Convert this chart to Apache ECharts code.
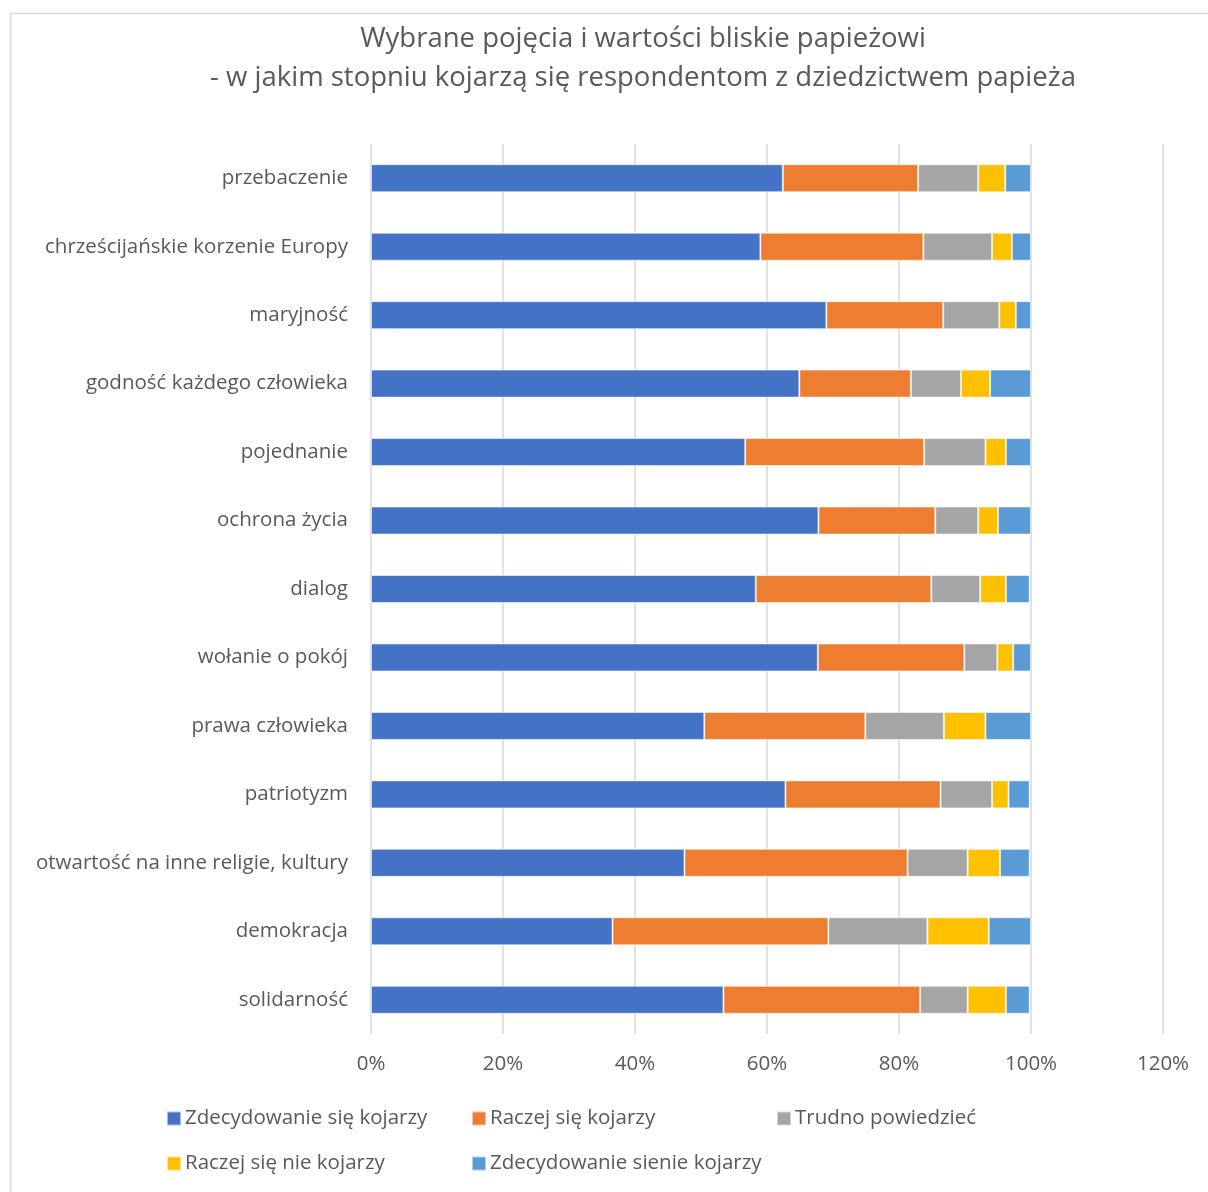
<!DOCTYPE html>
<html>
<head>
<meta charset="utf-8">
<script src="https://cdn.jsdelivr.net/npm/echarts@6/dist/echarts.min.js"></script>
<style>
  html, body { margin: 0; padding: 0; background: #fff; overflow: hidden; }
  #chart { width: 1208px; height: 1192px; }
</style>
</head>
<body>
<div id="chart"></div>
<script>
// Categories, top to bottom
const categories = [
  'przebaczenie',
  'chrześcijańskie korzenie Europy',
  'maryjność',
  'godność każdego człowieka',
  'pojednanie',
  'ochrona życia',
  'dialog',
  'wołanie o pokój',
  'prawa człowieka',
  'patriotyzm',
  'otwartość na inne religie, kultury',
  'demokracja',
  'solidarność'
];

const seriesNames = [
  'Zdecydowanie się kojarzy',
  'Raczej się kojarzy',
  'Trudno powiedzieć',
  'Raczej się nie kojarzy',
  'Zdecydowanie sienie kojarzy'
];

// Shares (%) per category, same order as categories
const zdecydowanieTak = [62.4, 59.0, 69.0, 64.9, 56.7, 67.8, 58.3, 67.7, 50.5, 62.8, 47.5, 36.6, 53.4];
const raczejTak       = [20.5, 24.7, 17.7, 16.9, 27.1, 17.7, 26.6, 22.2, 24.4, 23.5, 33.8, 32.7, 29.8];
const trudno          = [ 9.1, 10.4,  8.5,  7.6,  9.3,  6.5,  7.4,  5.0, 11.9,  7.8,  9.1, 15.0,  7.2];
const raczejNie       = [ 4.1,  3.0,  2.5,  4.4,  3.1,  3.0,  3.9,  2.4,  6.3,  2.5,  4.9,  9.3,  5.8];
const zdecydowanieNie = [ 3.9,  2.9,  2.3,  6.2,  3.8,  5.0,  3.6,  2.7,  6.9,  3.2,  4.5,  6.4,  3.6];

const xTicks = [0, 20, 40, 60, 80, 100, 120];

const colors = ['#4472C4', '#ED7D31', '#A5A5A5', '#FFC000', '#5B9BD5'];
const values = [zdecydowanieTak, raczejTak, trudno, raczejNie, zdecydowanieNie];

const FONT = '"Open Sans", sans-serif';
const TEXT = '#595959';
const LABEL_SIZE = 20.5;

const chart = echarts.init(document.getElementById('chart'), null, { renderer: 'canvas' });

// One legend block per entry, laid out in fixed columns
const legendPos = [
  { left: 166, top: 1108 },
  { left: 471, top: 1108 },
  { left: 776, top: 1108 },
  { left: 166, top: 1153 },
  { left: 471, top: 1153 }
];

const legends = seriesNames.map((name, i) => ({
  data: [name],
  left: legendPos[i].left,
  top: legendPos[i].top,
  icon: 'rect',
  itemWidth: 14,
  itemHeight: 14,
  itemGap: 0,
  padding: 0,
  selectedMode: false,
  textStyle: { fontFamily: FONT, fontSize: LABEL_SIZE, color: TEXT, padding: [0, 0, 0, -1] }
}));

chart.setOption({
  animation: false,
  backgroundColor: '#fff',
  title: {
    text: 'Wybrane pojęcia i wartości bliskie papieżowi\n- w jakim stopniu kojarzą się respondentom z dziedzictwem papieża',
    left: 638,
    top: 15,
    textAlign: 'center',
    textStyle: {
      fontFamily: FONT,
      fontSize: 27.5,
      fontWeight: 'normal',
      color: TEXT,
      lineHeight: 39
    }
  },
  legend: legends,
  graphic: [{
    type: 'rect',
    shape: { x: 10.5, y: 13.5, width: 1400, height: 1400 },
    style: { fill: 'none', stroke: '#d9d9d9', lineWidth: 1.5 },
    silent: true,
    z: -1
  }],
  grid: { left: 371, right: 45, top: 144, bottom: 158 },
  xAxis: {
    type: 'value',
    min: xTicks[0],
    max: xTicks[xTicks.length - 1],
    interval: 20,
    axisLine: { show: false },
    axisTick: { show: false },
    splitLine: { lineStyle: { color: '#d9d9d9', width: 1.5 } },
    axisLabel: {
      margin: 20,
      fontFamily: FONT,
      fontSize: LABEL_SIZE,
      color: TEXT,
      formatter: v => v + '%'
    }
  },
  yAxis: {
    type: 'category',
    data: categories,
    inverse: true,
    axisLine: { show: false },
    axisTick: { show: false },
    axisLabel: {
      margin: 23,
      fontFamily: FONT,
      fontSize: LABEL_SIZE,
      color: TEXT
    }
  },
  series: seriesNames.map((name, i) => ({
    name,
    type: 'bar',
    stack: 'total',
    barWidth: 28,
    data: values[i],
    itemStyle: {
      color: colors[i],
      borderColor: 'rgba(255,255,255,0.55)',
      borderWidth: 1
    }
  }))
});
</script>
</body>
</html>
